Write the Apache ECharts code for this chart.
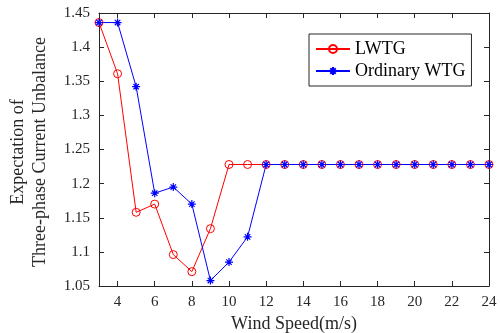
<!DOCTYPE html>
<html><head><meta charset="utf-8">
<script src="https://cdn.jsdelivr.net/npm/echarts@6/dist/echarts.min.js"></script>
<style>html,body{margin:0;padding:0;background:#fff;}#c{width:500px;height:333px;}</style>
</head><body><div id="c"></div>
<script>
const windSpeed = [3,4,5,6,7,8,9,10,11,12,13,14,15,16,17,18,19,20,21,22,23,24];
const lwtg = [1.436,1.361,1.158,1.170,1.096,1.071,1.134,1.228,1.228,1.228,1.228,1.228,1.228,1.228,1.228,1.228,1.228,1.228,1.228,1.228,1.228,1.228];
const ordinary = [1.436,1.436,1.342,1.186,1.195,1.170,1.058,1.085,1.122,1.228,1.228,1.228,1.228,1.228,1.228,1.228,1.228,1.228,1.228,1.228,1.228,1.228];
const xTicks = [4,6,8,10,12,14,16,18,20,22,24];
const seriesNames = ['LWTG','Ordinary WTG'];
const xLabel = 'Wind Speed(m/s)';
const yLabelLines = ['Expectation of','Three-phase Current Unbalance'];

const FONT = '"Liberation Serif","Times New Roman",serif';
const TXT = '#262626';
const star = 'path://M5 0L5 10M0 5L10 5M1.6 1.6L8.4 8.4M1.6 8.4L8.4 1.6';
const chart = echarts.init(document.getElementById('c'), null, {renderer:'canvas'});
const axisCommon = {
  axisLine:{show:true,lineStyle:{color:TXT,width:1}},
  axisTick:{show:true,inside:true,length:5,lineStyle:{color:TXT}},
  splitLine:{show:false}
};
chart.setOption({
  animation:false,
  backgroundColor:'#fff',
  grid:{left:99,right:11,top:13,bottom:47,containLabel:false,outerBoundsMode:'none'},
  legend:{
    orient:'vertical', left:309, top:34, width:162,
    backgroundColor:'#fff', borderColor:TXT, borderWidth:1,
    padding:[6,6,6,6], itemGap:4, itemWidth:34, itemHeight:10,
    textStyle:{fontFamily:FONT,fontSize:18,color:'#000'},
    data:seriesNames
  },
  xAxis:[
    Object.assign({type:'value',min:3,max:24,position:'bottom',
      name:xLabel,nameLocation:'middle',nameGap:29,
      nameTextStyle:{fontFamily:FONT,fontSize:18,color:TXT},
      axisLabel:{customValues:xTicks,fontFamily:FONT,fontSize:15,color:TXT,margin:9},
    },axisCommon,{axisTick:Object.assign({},axisCommon.axisTick,{customValues:xTicks})}),
    Object.assign({type:'value',min:3,max:24,position:'top',
      axisLabel:{show:false}},axisCommon,{axisTick:Object.assign({},axisCommon.axisTick,{customValues:xTicks})})
  ],
  yAxis:[
    Object.assign({type:'value',min:1.05,max:1.45,interval:0.05,position:'left',
      axisLabel:{fontFamily:FONT,fontSize:15,color:TXT,margin:9,formatter:v=>String(+v.toFixed(2))}},axisCommon),
    Object.assign({type:'value',min:1.05,max:1.45,interval:0.05,position:'right',
      axisLabel:{show:false}},axisCommon)
  ],
  graphic:[
    {type:'text',x:29,y:152,rotation:Math.PI/2,
     style:{text:yLabelLines.join('\n'),font:'18px '+FONT,fill:TXT,align:'center',verticalAlign:'middle',lineHeight:22}}
  ],
  series:[
    {name:seriesNames[0],type:'line',data:windSpeed.map((x,i)=>[x,lwtg[i]]),
     symbol:'circle',symbolSize:8,showAllSymbol:true,
     lineStyle:{color:'#ff0000',width:1},itemStyle:{color:'rgba(0,0,0,0)',borderColor:'#ff0000',borderWidth:1}},
    {name:seriesNames[1],type:'line',data:windSpeed.map((x,i)=>[x,ordinary[i]]),
     symbol:star,symbolSize:8,showAllSymbol:true,
     lineStyle:{color:'#0000ff',width:1},itemStyle:{color:'#0000ff',borderColor:'#0000ff',borderWidth:1.2}}
  ]
});
</script></body></html>
